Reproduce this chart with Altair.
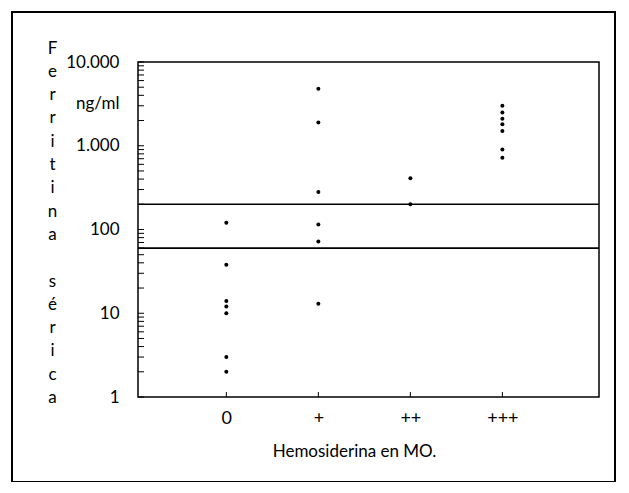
import altair as alt
import pandas as pd

# categories on the x axis (Hemosiderina en MO.)
categories = ["0", "+", "++", "+++"]

# ferritina sérica values (ng/ml), per category
vals_0 = [120, 38, 14, 12, 10, 3, 2]
vals_1 = [4800, 1900, 280, 115, 72, 13]
vals_2 = [410, 200]
vals_3 = [3000, 2500, 2100, 1800, 1500, 900, 720]

# horizontal reference lines
ref_lines = [200, 60]

# y axis tick labels
y_major = [1, 10, 100, 1000, 10000]
y_major_labels = ["1", "10", "100", "1.000", "10.000"]
y_unit_pos = 3162
y_unit_label = "ng/ml"

y_title_letters = list("Ferritina") + ["\u2800"] + list("sérica")
x_title = "Hemosiderina en MO."

rows = []
for i, vals in enumerate([vals_0, vals_1, vals_2, vals_3]):
    for v in vals:
        rows.append({"x": i, "y": v})
pts = pd.DataFrame(rows)

minor = []
for d in [1, 10, 100, 1000]:
    for m in range(1, 10):
        minor.append(d * m)
minor.append(10000)
ticks_df = pd.DataFrame({"y": minor})
xt_df = pd.DataFrame({"x": list(range(len(categories)))})
lines_df = pd.DataFrame({"y": ref_lines})

W, H = 461, 335
FONT = "Lato"

xscale = alt.Scale(domain=[-0.96, 4.05], nice=False, zero=False)
yscale = alt.Scale(type="log", domain=[1, 10000], nice=False)

lab_expr_y = " : ".join(
    [f"datum.value == {v} ? '{l}'" for v, l in zip(y_major, y_major_labels)]
    + [f"datum.value == {y_unit_pos} ? '{y_unit_label}'", "''"]
)
lab_expr_x = " : ".join(
    [f"datum.value == {i} ? '{c}'" for i, c in enumerate(categories)] + ["''"]
)

yaxis = alt.Axis(
    values=y_major + [y_unit_pos],
    labelExpr=lab_expr_y,
    ticks=False,
    domain=False,
    grid=False,
    labelFont=FONT,
    labelFontSize=17,
    labelColor="black",
    labelPadding=19,
    title=y_title_letters,
    titleAngle=0,
    titleFont=FONT,
    titleFontSize=17,
    titleFontWeight="normal",
    titleColor="black",
    titleLineHeight=23.3,
    titleAlign="center",
    titleBaseline="top",
    titleX=-86,
    titleY=-22,
)
xaxis = alt.Axis(
    values=list(range(len(categories))),
    labelExpr=lab_expr_x,
    ticks=False,
    domain=False,
    grid=False,
    labelFont=FONT,
    labelFontSize=18,
    labelColor="black",
    labelPadding=12,
    title=x_title,
    titleFont=FONT,
    titleFontSize=17,
    titleFontWeight="normal",
    titleColor="black",
    titlePadding=16,
    titleX=216,
)

Y = alt.Y("y:Q", scale=yscale, axis=yaxis)
X = alt.X("x:Q", scale=xscale, axis=xaxis)

points = alt.Chart(pts).mark_circle(color="black", size=16, opacity=1).encode(x=X, y=Y)

lines = alt.Chart(lines_df).mark_rule(color="black", strokeWidth=1.6).encode(
    y=Y, x=alt.value(0), x2=alt.value(W)
)

yticks = alt.Chart(ticks_df).mark_rule(color="black", strokeWidth=1).encode(
    y=Y, x=alt.value(0), x2=alt.value(6)
)

xticks = alt.Chart(xt_df).mark_rule(color="black", strokeWidth=1).encode(
    x=X, y=alt.value(H), y2=alt.value(H - 5)
)

frame = alt.Chart(pd.DataFrame({"a": [0]})).mark_rect(
    fill=None, stroke="black", strokeWidth=2
).encode(
    x=alt.value(-126), x2=alt.value(477), y=alt.value(-50), y2=alt.value(420)
)

chart = alt.layer(lines, yticks, xticks, points, frame).properties(
    width=W,
    height=H,
    autosize=alt.AutoSizeParams(type="none"),
    padding={"left": 130, "top": 54, "right": 20, "bottom": 85},
    background="white",
).configure_view(stroke="black", strokeWidth=1.5)

chart.save("out.html", embed_options={"renderer": "svg", "actions": False})
